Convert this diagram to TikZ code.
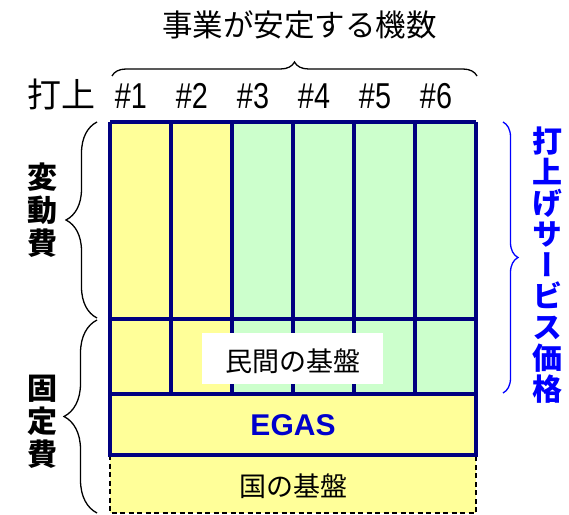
\documentclass[tikz,border=0pt]{standalone}
\usepackage{fontspec}
\setmainfont{Liberation Sans}
\newfontfamily\cjk{Noto Sans CJK JP}
\newfontfamily\cjkv[RawFeature=+vert]{Noto Sans CJK JP}
\usetikzlibrary{decorations.pathreplacing}
\definecolor{cyel}{HTML}{FFFF99}
\definecolor{cgrn}{HTML}{CCFFCC}
\definecolor{cnavy}{HTML}{000080}
\definecolor{cblue}{HTML}{0000FF}
\definecolor{cegas}{HTML}{0000CC}
\begin{document}
\begin{tikzpicture}[x=1bp,y=-1bp,
  gridline/.style={draw=cnavy,line width=3.5bp},
  bracestyle/.style={decorate,decoration={brace,amplitude=#1},line width=1.3bp},
  lbl/.style={inner sep=0pt},
  jp/.style={lbl,font=\fontsize{#1}{#1}\selectfont\cjk},
  num/.style={lbl,font=\fontsize{36bp}{36bp}\selectfont}]
\useasboundingbox (0,0) rectangle (569,515);
% cells
\foreach \i in {0,1,2,3,4,5}{
  \pgfmathsetmacro{\xa}{110+61*\i}
  \pgfmathsetmacro{\xb}{171+61*\i}
  \ifnum\i<2 \def\cc{cyel}\else\def\cc{cgrn}\fi
  \fill[\cc] (\xa,122) rectangle (\xb,394);
}
% grid lines
\foreach \i in {0,...,6}{
  \pgfmathsetmacro{\xa}{110+61*\i}
  \draw[gridline] (\xa,122) -- (\xa,394);
}
\draw[gridline] (110,122) -- (476,122);
\draw[gridline] (110,319) -- (476,319);
% private base
\node[fill=white,minimum width=181bp,minimum height=51bp,inner sep=0pt] (priv) at (292.5,358.5) {};
\node[jp=27bp] (privtxt) at (293,361) {民間の基盤};
% national base
\draw[dash pattern=on 5bp off 3.5bp,line width=1.6bp,fill=cyel] (110,455) rectangle (476,513);
\node[jp=27bp] (nat) at (293,486) {国の基盤};
% EGAS
\draw[gridline,fill=cyel] (110,394) rectangle (476,455);
\node[lbl,font=\fontsize{30bp}{30bp}\selectfont\bfseries,text=cegas] (egas) at (293,425) {EGAS};
% top labels
\node[jp=30.5bp] (title) at (299.5,24.5) {事業が安定する機数};
\node[jp=34bp] (launch) at (61,94.5) {打上};
\foreach \k in {1,...,6}{
  \node[num] (n\k) at ({131+61*(\k-1)},96) {\scalebox{0.8}[1]{\#\k}};
}
% braces
\coordinate (tbA) at (112,76);
\coordinate (tbB) at (477,76);
\draw[bracestyle=14bp] (tbA) -- (tbB);
\coordinate (lbA) at (97,318);
\coordinate (lbB) at (97,122);
\draw[bracestyle=31bp] (lbA) -- (lbB);
\coordinate (lcA) at (97,513);
\coordinate (lcB) at (97,320);
\draw[bracestyle=33bp] (lcA) -- (lcB);
\coordinate (rbA) at (503,122);
\coordinate (rbB) at (503,393);
\draw[bracestyle=15bp,cblue] (rbA) -- (rbB);
% side labels
\node[lbl,align=center,font=\fontsize{30bp}{33bp}\selectfont\cjk\bfseries] (var) at (42,210) {変\\動\\費};
\node[lbl,align=center,font=\fontsize{30bp}{33bp}\selectfont\cjk\bfseries] (fix) at (42,422) {固\\定\\費};
\node[lbl,align=center,text=cblue,font=\fontsize{30bp}{31bp}\selectfont\cjkv\bfseries] (price) at (547,265.5) {打\\上\\げ\\サ\\ー\\ビ\\ス\\価\\格};
\end{tikzpicture}
\end{document}
